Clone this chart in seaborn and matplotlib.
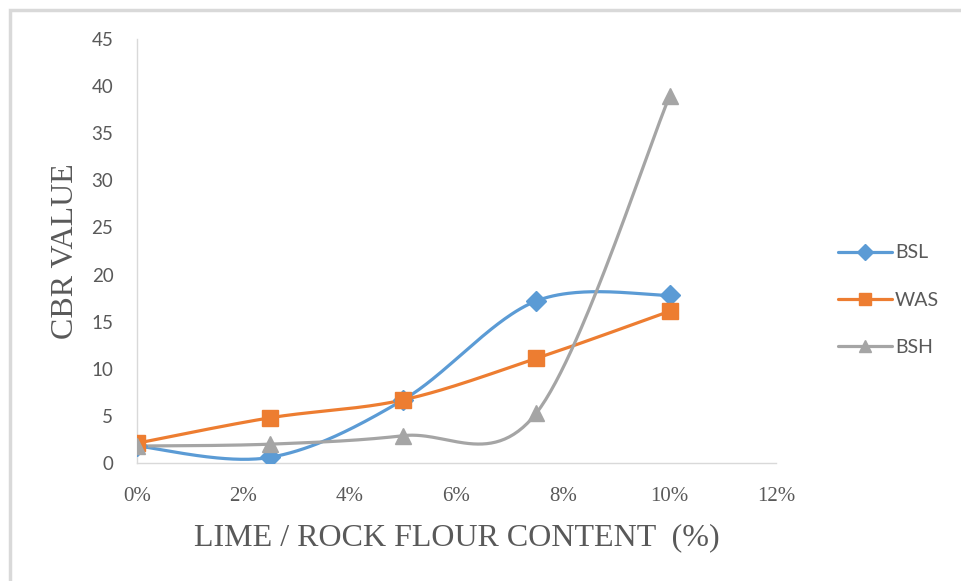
import numpy as np
import pandas as pd
import matplotlib
matplotlib.use('Agg')
import matplotlib.pyplot as plt
import seaborn as sns
from matplotlib.lines import Line2D
from matplotlib.patches import Rectangle

# data
content = [0, 2.5, 5, 7.5, 10]
bsl = [1.8, 0.6, 6.7, 17.2, 17.8]
was = [2.1, 4.8, 6.7, 11.1, 16.1]
bsh = [1.8, 2.0, 2.9, 5.3, 38.9]
series_names = ['BSL', 'WAS', 'BSH']
x_ticks = [0, 2, 4, 6, 8, 10, 12]
x_tick_labels = ['0%', '2%', '4%', '6%', '8%', '10%', '12%']
y_ticks = [0, 5, 10, 15, 20, 25, 30, 35, 40, 45]

colors = ['#5B9BD5', '#ED7D31', '#A5A5A5']
markers = ['D', 's', '^']
msizes = [10, 11, 11]


def smooth_curve(x, y, n=60):
    """Excel-style smoothed line: cubic bezier with catmull-rom tangents."""
    pts = np.column_stack([x, y]).astype(float)
    padded = np.vstack([pts[0], pts, pts[-1]])
    t = np.linspace(0, 1, n)[:, None]
    out = []
    for i in range(len(pts) - 1):
        p0, p1 = padded[i + 1], padded[i + 2]
        c1 = p0 + (padded[i + 2] - padded[i]) / 6
        c2 = p1 - (padded[i + 3] - padded[i + 1]) / 6
        seg = ((1 - t) ** 3) * p0 + 3 * ((1 - t) ** 2) * t * c1 + 3 * (1 - t) * t ** 2 * c2 + t ** 3 * p1
        out.append(seg if i == 0 else seg[1:])
    out = np.vstack(out)
    return out[:, 0], out[:, 1]


sns.set_style('white')
fig = plt.figure(figsize=(9.61, 5.81), dpi=100)
ax = fig.add_axes([137 / 961, 118 / 581, 639 / 961, 424 / 581])

gray_txt = '#595959'
handles = []
for name, vals, c, m, ms in zip(series_names, [bsl, was, bsh], colors, markers, msizes):
    xs, ys = smooth_curve(content, vals)
    curve = pd.DataFrame({'x': xs, 'y': ys})
    sns.lineplot(data=curve, x='x', y='y', ax=ax, color=c, linewidth=2.3,
                 sort=False, estimator=None, legend=False)
    ax.plot(content, vals, linestyle='none', marker=m, markersize=ms,
            color=c, markeredgecolor=c, zorder=3)
    handles.append(Line2D([0], [0], color=c, linewidth=2.3, marker=m,
                          markersize=ms * 0.85, markeredgecolor=c))

ax.set_xlim(0, 12)
ax.set_ylim(0, 45)
ax.set_xticks(x_ticks)
ax.set_xticklabels(x_tick_labels, fontfamily='Liberation Serif', fontsize=15, color=gray_txt)
ax.set_yticks(y_ticks)
ax.set_yticklabels([str(v) for v in y_ticks], fontfamily='Lato', fontsize=13.5, color=gray_txt)
ax.tick_params(axis='both', length=0)
ax.tick_params(axis='x', pad=17)
ax.tick_params(axis='y', pad=17)

for side in ['top', 'right']:
    ax.spines[side].set_visible(False)
for side in ['left', 'bottom']:
    ax.spines[side].set_color('#D9D9D9')
    ax.spines[side].set_linewidth(1.0)

ax.set_xlabel('LIME / ROCK FLOUR CONTENT  (%)', fontfamily='Liberation Serif',
              fontsize=23, color=gray_txt, labelpad=13)
ax.set_ylabel('CBR VALUE', fontfamily='Liberation Serif', fontsize=23,
              color=gray_txt, labelpad=8)

fig.legend(handles, series_names, loc='center left', bbox_to_anchor=(820 / 961, 1 - 300 / 581),
           frameon=False, prop={'family': 'Lato', 'size': 14}, labelcolor=gray_txt,
           handlelength=2.8, labelspacing=1.55, handletextpad=0.15)

# outer chart border (only top and left edges fall inside the image)
fig.patches.append(Rectangle((10 / 961, -0.1), 1.2, 1 - 10 / 581 + 0.1,
                             transform=fig.transFigure, fill=False,
                             edgecolor='#D9D9D9', linewidth=2.5))

fig.savefig('out.png', dpi=100)
